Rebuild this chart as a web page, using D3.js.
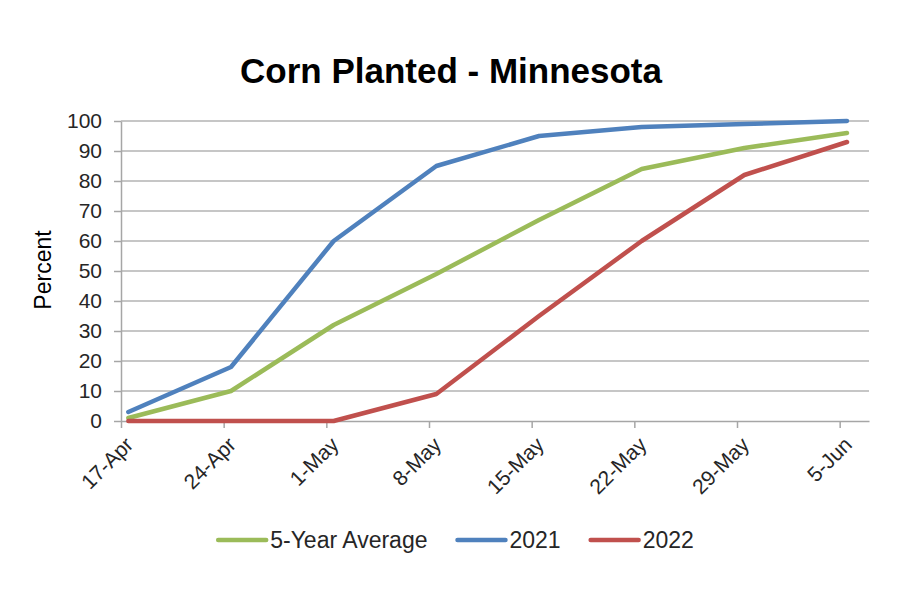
<!DOCTYPE html>
<html>
<head>
<meta charset="utf-8">
<script src="https://cdn.jsdelivr.net/npm/d3@7"></script>
<style>
  body { margin: 0; background: #fff; }
  text { font-family: "Liberation Sans", Arial, sans-serif; }
</style>
</head>
<body>
<div id="chart"></div>
<script>
// weekly crop progress, percent planted
const weeks = ["2022-04-17", "2022-04-24", "2022-05-01", "2022-05-08",
               "2022-05-15", "2022-05-22", "2022-05-29", "2022-06-05"];
const avg5 = [1, 10, 32, 49, 67, 84, 91, 96];
const y2021 = [3, 18, 60, 85, 95, 98, 99, 100];
const y2022 = [0, 0, 0, 9, 35, 60, 82, 93];
const yTicks = [0, 10, 20, 30, 40, 50, 60, 70, 80, 90, 100];

const seriesNames = ["5-Year Average", "2021", "2022"];
const seriesColors = ["#9bbb59", "#4f81bd", "#c0504d"];
const seriesValues = [avg5, y2021, y2022];

const width = 904, height = 596;
const margin = {top: 121, right: 35, bottom: 175, left: 121};

const parse = d3.timeParse("%Y-%m-%d");
const dates = weeks.map(parse);

const svg = d3.select("#chart").append("svg")
  .attr("width", width)
  .attr("height", height);

// date axis, each day is a slot and the value sits in the middle of it
const x = d3.scaleTime()
  .domain([dates[0], d3.timeDay.offset(dates[dates.length - 1], 2)])
  .range([margin.left, width - margin.right]);

const y = d3.scaleLinear()
  .domain([0, 100])
  .range([height - margin.bottom, margin.top]);

// gridlines
svg.append("g")
  .selectAll("line")
  .data(yTicks.slice(1))
  .join("line")
  .attr("x1", margin.left)
  .attr("x2", width - margin.right)
  .attr("y1", d => y(d))
  .attr("y2", d => y(d))
  .attr("stroke", "#b3b3b3")
  .attr("stroke-width", 1.5);

// y axis
const yAxis = svg.append("g")
  .attr("transform", `translate(${margin.left},0)`)
  .call(d3.axisLeft(y).tickValues(yTicks).tickSize(7).tickPadding(12).tickSizeOuter(0));
yAxis.select(".domain").attr("stroke", "#a6a6a6").attr("stroke-width", 1.5);
yAxis.selectAll(".tick line").attr("stroke", "#a6a6a6").attr("stroke-width", 1.5);
yAxis.selectAll(".tick text")
  .attr("font-size", 21)
  .attr("fill", "#262626")
  .attr("font-family", "Liberation Sans, Arial, sans-serif");

// x axis
const xAxis = svg.append("g")
  .attr("transform", `translate(0,${y(0)})`)
  .call(d3.axisBottom(x).tickValues(dates).tickFormat(d3.timeFormat("%-d-%b")).tickSize(7).tickSizeOuter(0));
xAxis.select(".domain").attr("stroke", "#a6a6a6").attr("stroke-width", 1.5);
xAxis.selectAll(".tick line").attr("stroke", "#a6a6a6").attr("stroke-width", 1.5);
xAxis.selectAll(".tick text")
  .attr("font-size", 21)
  .attr("fill", "#262626")
  .attr("font-family", "Liberation Sans, Arial, sans-serif")
  .attr("text-anchor", "end")
  .attr("dy", null)
  .attr("y", 0)
  .attr("transform", "translate(13,25) rotate(-45)");

// lines
const line = d3.line()
  .x((d, i) => x(d3.timeHour.offset(dates[i], 12)))
  .y(d => y(d));

svg.append("g")
  .selectAll("path")
  .data(seriesValues)
  .join("path")
  .attr("d", d => line(d))
  .attr("fill", "none")
  .attr("stroke", (d, i) => seriesColors[i])
  .attr("stroke-width", 4.5)
  .attr("stroke-linejoin", "round")
  .attr("stroke-linecap", "round");

// title
svg.append("text")
  .attr("x", 451)
  .attr("y", 83)
  .attr("text-anchor", "middle")
  .attr("font-size", 35)
  .attr("font-weight", "bold")
  .attr("fill", "#000")
  .text("Corn Planted - Minnesota");

// y label
svg.append("text")
  .attr("transform", "translate(51,270) rotate(-90)")
  .attr("text-anchor", "middle")
  .attr("font-size", 23)
  .attr("fill", "#000")
  .text("Percent");

// legend
const legend = svg.append("g");
let lx = 0;
seriesNames.forEach((name, i) => {
  const item = legend.append("g").attr("transform", `translate(${lx},0)`);
  item.append("line")
    .attr("x1", 2).attr("x2", 50)
    .attr("y1", 0).attr("y2", 0)
    .attr("stroke", seriesColors[i])
    .attr("stroke-width", 4.5)
    .attr("stroke-linecap", "round");
  const t = item.append("text")
    .attr("x", 54)
    .attr("y", 8)
    .attr("font-size", 23)
    .attr("fill", "#262626")
    .text(name);
  lx += 54 + t.node().getComputedTextLength() + 28;
});
const legendW = lx - 28;
legend.attr("transform", `translate(${455 - legendW / 2},540)`);
</script>
</body>
</html>
